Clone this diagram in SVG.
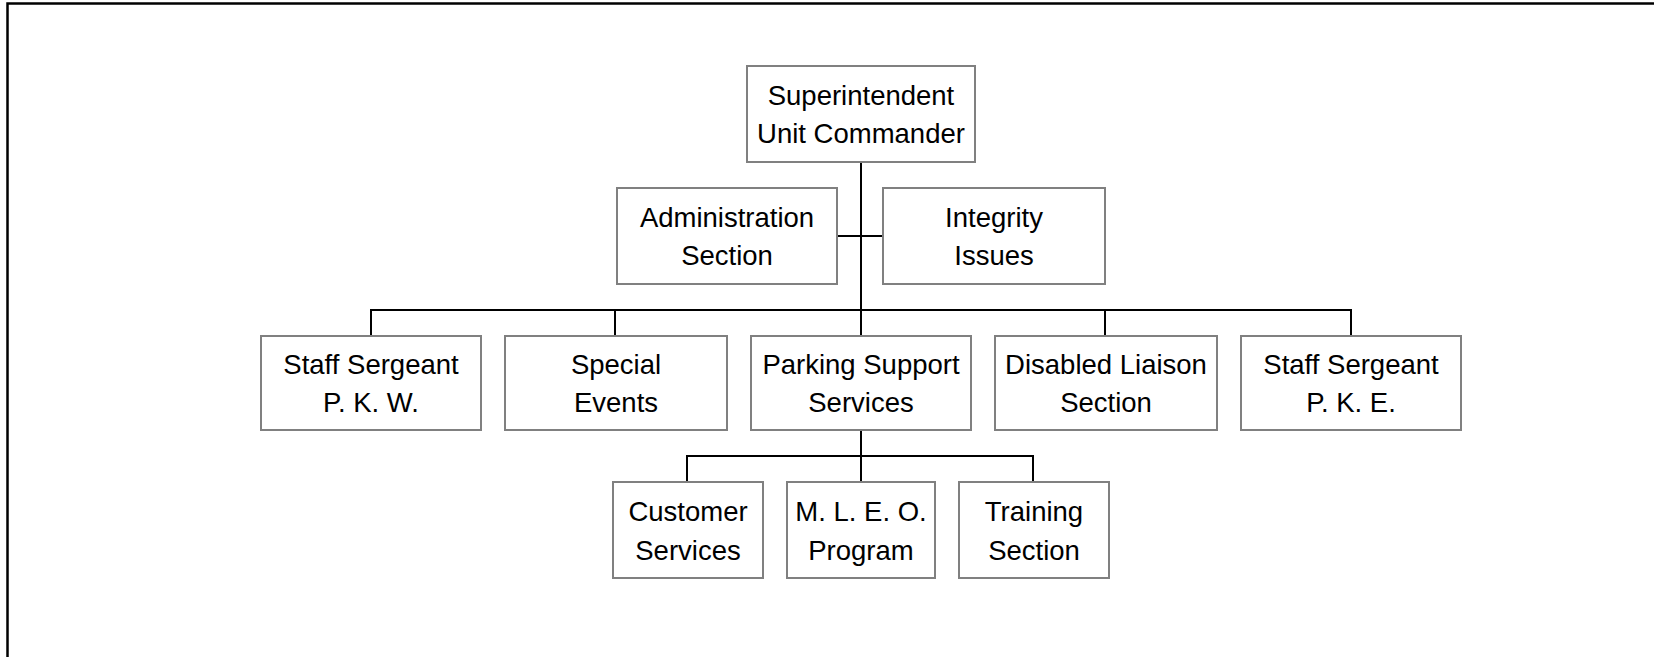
<svg xmlns="http://www.w3.org/2000/svg" width="1654" height="657" viewBox="0 0 1654 657">
  <style>
    .box rect { fill: #ffffff; stroke: #808080; stroke-width: 2; }
    .box text { font-family: "Liberation Sans", Arial, sans-serif; font-size: 27.5px; fill: #000000; text-anchor: middle; }
    .links path { fill: none; stroke: #000000; stroke-width: 2; }
    .frame { fill: none; stroke: #000000; stroke-width: 2.5; }
  </style>
  <rect width="1654" height="657" fill="#ffffff"/>
  <!-- page frame: only top and left edges are visible -->
  <path class="frame" d="M7.5,657 V3.5 H1654"/>

  <g class="links" id="connectors">
    <!-- trunk from the commander down to Parking Support Services -->
    <path d="M861,162 V336"/>
    <!-- staff branches -->
    <path d="M837,236 H883"/>
    <!-- second-tier bus -->
    <path d="M371,336 V310 H1351 V336"/>
    <path d="M615,310 V336"/>
    <path d="M1105,310 V336"/>
    <!-- parking support sub-units -->
    <path d="M861,430 V482"/>
    <path d="M687,482 V456 H1033 V482"/>
  </g>

  <g class="box" id="superintendent">
    <rect x="747" y="66" width="228" height="96"/>
    <text x="861" y="104.5">Superintendent</text>
    <text x="861" y="143">Unit Commander</text>
  </g>
  <g class="box" id="administration">
    <rect x="617" y="188" width="220" height="96"/>
    <text x="727" y="226.5">Administration</text>
    <text x="727" y="265">Section</text>
  </g>
  <g class="box" id="integrity">
    <rect x="883" y="188" width="222" height="96"/>
    <text x="994" y="226.5">Integrity</text>
    <text x="994" y="265">Issues</text>
  </g>

  <g class="box" id="staff-sergeant-pkw">
    <rect x="261" y="336" width="220" height="94"/>
    <text x="371" y="373.5">Staff Sergeant</text>
    <text x="371" y="412">P. K. W.</text>
  </g>
  <g class="box" id="special-events">
    <rect x="505" y="336" width="222" height="94"/>
    <text x="616" y="373.5">Special</text>
    <text x="616" y="412">Events</text>
  </g>
  <g class="box" id="parking-support">
    <rect x="751" y="336" width="220" height="94"/>
    <text x="861" y="373.5">Parking Support</text>
    <text x="861" y="412">Services</text>
  </g>
  <g class="box" id="disabled-liaison">
    <rect x="995" y="336" width="222" height="94"/>
    <text x="1106" y="373.5">Disabled Liaison</text>
    <text x="1106" y="412">Section</text>
  </g>
  <g class="box" id="staff-sergeant-pke">
    <rect x="1241" y="336" width="220" height="94"/>
    <text x="1351" y="373.5">Staff Sergeant</text>
    <text x="1351" y="412">P. K. E.</text>
  </g>

  <g class="box" id="customer-services">
    <rect x="613" y="482" width="150" height="96"/>
    <text x="688" y="521">Customer</text>
    <text x="688" y="559.5">Services</text>
  </g>
  <g class="box" id="mleo-program">
    <rect x="787" y="482" width="148" height="96"/>
    <text x="861" y="521">M. L. E. O.</text>
    <text x="861" y="559.5">Program</text>
  </g>
  <g class="box" id="training-section">
    <rect x="959" y="482" width="150" height="96"/>
    <text x="1034" y="521">Training</text>
    <text x="1034" y="559.5">Section</text>
  </g>
</svg>
